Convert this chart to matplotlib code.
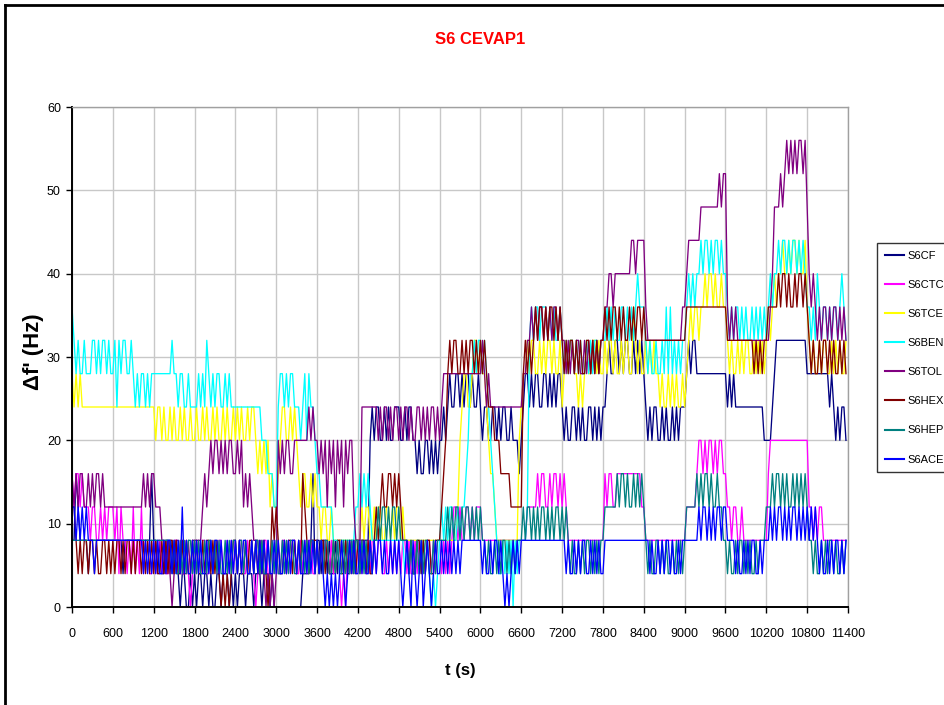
import numpy as np
import matplotlib
matplotlib.use("Agg")
import matplotlib.pyplot as plt
from matplotlib.lines import Line2D

plt.rcParams['font.family'] = ['Liberation Sans', 'DejaVu Sans']

# Frequency shift records, one string per 600 s block.
# Each character is one reading in 4 Hz steps written as a hex digit (0..e -> 0..56 Hz).
S6CF = [
    "22432222122222222222", "22222122222222222224", "22121122121210110010",
    "10110110100110111010", "10111011101110111010", "00000000000001111241",
    "22122121121221211212", "22222256566556565566", "65565665545445545454",
    "55656766776767767667", "65665566565665565554", "56776767766776767677",
    "65655665656556656565", "66787788787887787878", "76565665565655656566",
    "67878877777777777777", "76767666666666666665", "55567888888888888888",
    "77777777777676565665",
]
S6CTC = [
    "43443433323322323233", "32313221213121312211", "21221211212212112101",
    "21212211212122112121", "21221121210121221121", "21122121221121212211",
    "21212212112101021221", "22121212212211212121", "21221211212121221212",
    "21212123323223323233", "32222222222222222222", "22233333434433434434",
    "34322222222222222222", "24344334444444444443", "32222222222222222222",
    "23333345545455454554", "43323322322222222222", "24555555555555555555",
    "53323233222222222222",
]
S6TCE = [
    "76767666666666666666", "66666666666666666666", "65665655656556565565",
    "56556565565655656556", "56565565665454545343", "34566556565434433434",
    "33233223222222222222", "22323322323322332323", "32322222222222222222",
    "22222222235677667887", "87765443222222222225", "67787887787878878778",
    "67878877676787788787", "78788787787887798787", "78787877676676767667",
    "6789899899a9aa9a99a9", "98787787878877878787", "8989a9aabaababbabaab",
    "98787787887787878778",
]
S6BEN = [
    "98787787778878788787", "78687887787676776767", "77777777787767766766",
    "66767687676776676766", "66666666666665554443", "36776767766656757665",
    "44333333222122222223", "34343432222222222222", "22212121122121210101",
    "23232332232334577878", "87876543211212120212", "22238989989998989889",
    "87878878787787878878", "88989898899898989a99", "98787787787979787878",
    "89a9a9aababbababbaba", "a9898998989889898989", "89a9aababbababbababa",
    "99898a98998989989a98",
]
S6TOL = [
    "43434433434344343333", "33333333333333343434", "43332212101221211212",
    "22223434545545454554", "45453434322212101010", "15454554455555556565",
    "54545354535453545532", "22666666665656656566", "56566565566565656656",
    "56777777777777777777", "78767666666666666666", "67788989899898989989",
    "88787878877878787878", "899aa9aaaaaaaabbabbb", "b9888888888888888889",
    "9abbbbbbcccccccccdcd", "d9898988888888888888", "889acccdcdedededeede",
    "ca9a9898998989989898",
]
S6HEX = [
    "33212122122121122121", "21221212212122121212", "12112121221211212112",
    "12112122121210101012", "21211212212121210132", "32112122121214321222",
    "21221211212211212121", "21221211232343344343", "43222121122121221122",
    "23457878877878788787", "87876665554444433333", "37878789899898998989",
    "87878878787788787878", "89898998989889898998", "98888888888888888888",
    "89999999999999999999", "98888888888888787878", "899999a9aa9a99a9aa9a",
    "98787787887878778787",
]
S6HEP = [
    "22222222222222222222", "22222222222222222222", "22222222212112121221",
    "21211212212121121212", "21221211212212112121", "21121212211212121221",
    "21212211212112121212", "21212121223233232332", "32222121121212211212",
    "22223232332323323232", "32212112121221212122", "23233232323323232332",
    "32321211212122121212", "23333334344343343434", "32121122121211212121",
    "23333343434434334332", "21211212212121121222", "33343443434334343434",
    "32212112121221211212",
]
S6ACE = [
    "33232323222122222222", "22222222222222212121", "21211212212121312112",
    "12121121212212112121", "21212211212121212112", "12112121221211212121",
    "21210101010121012121", "12121121212212112121", "21012102101201210121",
    "12121212121222222222", "21211212212101012121", "22222222222222222222",
    "22121121212211212121", "12222222222222222222", "22212112121221211212",
    "22222223233232323323", "32222121121212211212", "22323233232323323232",
    "32323212112121221212",
]

SERIES = [
    ("S6CF", S6CF, "#000080"),
    ("S6CTC", S6CTC, "#FF00FF"),
    ("S6TCE", S6TCE, "#FFFF00"),
    ("S6BEN", S6BEN, "#00FFFF"),
    ("S6TOL", S6TOL, "#800080"),
    ("S6HEX", S6HEX, "#800000"),
    ("S6HEP", S6HEP, "#008080"),
    ("S6ACE", S6ACE, "#0000FF"),
]

BLOCK_S = 600
HZ_PER_LEVEL = 4
X_TICKS = list(range(0, 11401, 600))
Y_TICKS = [0, 10, 20, 30, 40, 50, 60]


def decode(blocks):
    t, f = [], []
    for k, blk in enumerate(blocks):
        dt = BLOCK_S / len(blk)
        for j, ch in enumerate(blk):
            t.append(k * BLOCK_S + j * dt)
            f.append(int(ch, 16) * HZ_PER_LEVEL)
    return np.array(t), np.array(f)


W, H = 945, 705
fig = plt.figure(figsize=(W / 100, H / 100), dpi=100)
ax = fig.add_axes([72 / W, 1 - 607 / H, 776 / W, 500 / H])

for name, blocks, color in SERIES:
    t, f = decode(blocks)
    ax.plot(t, f, color=color, lw=0.95, label=name)

ax.set_xlim(0, 11400)
ax.set_ylim(0, 60)
ax.set_xticks(X_TICKS)
ax.set_yticks(Y_TICKS)
ax.grid(True, color='#c8c8c8', lw=1.0)
ax.set_axisbelow(True)
for side in ('left', 'bottom'):
    ax.spines[side].set_color('black')
    ax.spines[side].set_linewidth(1.4)
for side in ('top', 'right'):
    ax.spines[side].set_color('#a0a0a0')
    ax.spines[side].set_linewidth(1.0)
ax.tick_params(axis='x', direction='out', length=4, width=1, pad=11, labelsize=9)
ax.tick_params(axis='y', direction='out', length=4, width=1, pad=4, labelsize=9)

fig.text(480 / W, 1 - 40 / H, "S6 CEVAP1", color='red', fontsize=12,
         fontweight='bold', ha='center', va='center')
fig.text(34 / W, 1 - 352 / H, "\u0394f' (Hz)", fontsize=16, fontweight='bold',
         rotation=90, ha='center', va='center')
fig.text(460 / W, 1 - 670 / H, "t (s)", fontsize=12, fontweight='bold',
         ha='center', va='center')

fig.add_artist(Line2D([5 / W, 5 / W], [0, 1 - 5 / H], transform=fig.transFigure,
                      color='black', lw=2))
fig.add_artist(Line2D([5 / W, 1], [1 - 5 / H, 1 - 5 / H], transform=fig.transFigure,
                      color='black', lw=2))

leg = fig.legend(loc='upper left', bbox_to_anchor=(877 / W, 1 - 243 / H),
                 fontsize=8, frameon=True, fancybox=False, edgecolor='black',
                 handlelength=1.75, handletextpad=0.25, labelspacing=1.72,
                 borderpad=0.7, borderaxespad=0)
leg.get_frame().set_linewidth(1.0)
for line in leg.get_lines():
    line.set_linewidth(1.5)

fig.savefig("out.png", dpi=100)
